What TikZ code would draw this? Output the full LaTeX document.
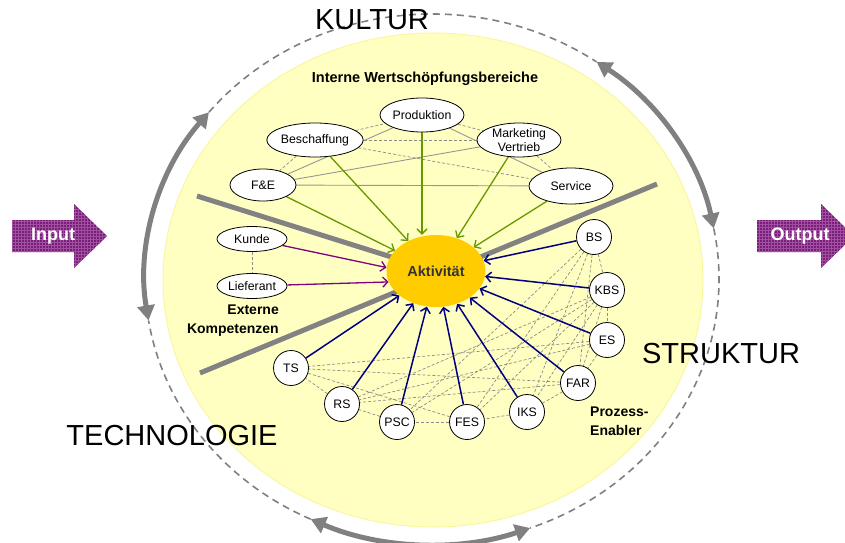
\documentclass[tikz,border=0pt]{standalone}
\usepackage{fontspec}
\setmainfont{Liberation Sans}
\usetikzlibrary{shapes.geometric,arrows.meta,patterns}

\pgfdeclarelayer{back}
\pgfdeclarelayer{links}
\pgfsetlayers{back,links,main}

\definecolor{ringgray}{RGB}{128,128,128}
\definecolor{paleyellow}{RGB}{255,255,194}
\definecolor{rimyellow}{RGB}{250,246,160}
\definecolor{aktgold}{RGB}{255,204,0}
\definecolor{aktext}{RGB}{51,51,51}
\definecolor{valgreen}{RGB}{102,153,0}
\definecolor{enablerblue}{RGB}{0,0,128}
\definecolor{extpurple}{RGB}{128,0,128}
\definecolor{arrowpurple}{RGB}{122,30,122}
\definecolor{arrowgrid}{RGB}{160,80,160}
\definecolor{meshgray}{RGB}{140,140,140}
\definecolor{linkgray}{RGB}{150,150,150}
\definecolor{dividergray}{RGB}{130,130,130}

\begin{document}
\begin{tikzpicture}[x=1pt,y=1pt,
  bereich/.style={ellipse, draw=black, line width=0.8pt, fill=white, inner sep=0pt,
    minimum width=84pt, minimum height=34pt, align=center,
    font=\fontsize{12.3}{13.5}\selectfont},
  extern/.style={bereich, minimum width=70pt, minimum height=25pt},
  enabler/.style={circle, draw=black, line width=0.8pt, fill=white, inner sep=0pt,
    minimum size=35pt, font=\fontsize{12.3}{14}\selectfont},
  bigword/.style={font=\fontsize{29}{32}\selectfont, text=black, inner sep=0pt},
  grouplabel/.style={font=\bfseries\fontsize{14}{19}\selectfont, inner sep=0pt},
  ringdash/.style={draw=ringgray, line width=1.6pt, dash pattern=on 7pt off 5pt},
  ringarrow/.style={draw=ringgray, line width=5pt,
    {Triangle[length=15pt,width=17pt]}-{Triangle[length=15pt,width=17pt]}},
  barb/.style={-{Straight Barb[length=5pt,width=10pt]}},
  greenarrow/.style={barb, draw=valgreen, line width=1.3pt},
  purplearrow/.style={barb, draw=extpurple, line width=1.3pt},
  bluearrow/.style={barb, draw=enablerblue, line width=1.5pt},
  meshdash/.style={draw=meshgray, line width=0.7pt, dash pattern=on 3pt off 2pt},
  meshsolid/.style={draw=linkgray, line width=0.9pt},
  divider/.style={draw=dividergray, line width=5pt},
  bigarrow/.style={fill=arrowpurple, postaction={pattern=grid, pattern color=arrowgrid}},
  arrowtext/.style={font=\bfseries\fontsize{18}{20}\selectfont, text=white, inner sep=0pt}
]
\clip (0,0) rectangle (845,542);

% ---------- yellow company disk and surrounding ring ----------
\begin{pgfonlayer}{back}
  \filldraw[fill=paleyellow, draw=rimyellow, line width=1pt]
    (433,262) ellipse[x radius=270, y radius=247];
  \coordinate (rc) at (432,263);
  \draw[ringdash] (rc) ++(141:287 and 265) arc[start angle=141, end angle=55, x radius=287, y radius=265];
  \draw[ringdash] (rc) ++(11:287 and 265) arc[start angle=11, end angle=-70, x radius=287, y radius=265];
  \draw[ringdash] (rc) ++(-115:287 and 265) arc[start angle=-115, end angle=-171, x radius=287, y radius=265];
  \draw[ringarrow] (rc) ++(55:287 and 265) arc[start angle=55, end angle=11, x radius=287, y radius=265];
  \draw[ringarrow] (rc) ++(-70:287 and 265) arc[start angle=-70, end angle=-115, x radius=287, y radius=265];
  \draw[ringarrow] (rc) ++(189:287 and 265) arc[start angle=189, end angle=141, x radius=287, y radius=265];
\end{pgfonlayer}

% ---------- input / output arrows ----------
\path[bigarrow] (12,322) -- (74,322) -- (74,338) -- (107,306) -- (74,274) -- (74,290) -- (12,290) -- cycle;
\node[arrowtext] (input) at (53,306) {Input};
\path[bigarrow] (757,322) -- (821,322) -- (821,338) -- (854,306) -- (821,274) -- (821,290) -- (757,290) -- cycle;
\node[arrowtext] (output) at (800,306) {Output};

% ---------- ring labels ----------
\node[bigword] (kultur) at (372,522) {KULTUR};
\node[bigword] (struktur) at (721,188) {STRUKTUR};
\node[bigword] (technologie) at (172,106) {TECHNOLOGIE};

% ---------- group labels ----------
\node[grouplabel, font=\bfseries\fontsize{14.5}{17}\selectfont] (intern) at (425,463) {Interne Wertschöpfungsbereiche};
\node[grouplabel, align=right, anchor=north east] (externlbl) at (279,237) {Externe\\Kompetenzen};
\node[grouplabel, align=left, anchor=north west] (enablerlbl) at (590,135) {Prozess-\\Enabler};

% ---------- central activity ----------
\node[ellipse, fill=aktgold, minimum width=99pt, minimum height=72pt, inner sep=0pt,
      text=aktext, font=\bfseries\fontsize{14.5}{16}\selectfont] (akt) at (436,271) {Aktivität};

% ---------- internal value-creation areas ----------
\node[bereich] (prod) at (422,427) {Produktion};
\node[bereich] (besch) at (315,402) {Beschaffung};
\node[bereich] (mark) at (519,402) {Marketing\\Vertrieb};
\node[bereich, minimum width=66pt, minimum height=32pt] (fe) at (263,357) {F\&E};
\node[bereich, minimum height=36pt] (serv) at (571,356) {Service};

% ---------- external competences ----------
\node[extern] (kunde) at (252,303) {Kunde};
\node[extern] (lief) at (252,256) {Lieferant};

% ---------- process enablers ----------
\node[enabler] (bs) at (594,305) {BS};
\node[enabler] (kbs) at (607,252) {KBS};
\node[enabler] (es) at (607,202) {ES};
\node[enabler] (far) at (578,159) {FAR};
\node[enabler] (iks) at (527,130) {IKS};
\node[enabler] (fes) at (467,120) {FES};
\node[enabler] (psc) at (397,120) {PSC};
\node[enabler] (rs) at (342,138) {RS};
\node[enabler] (ts) at (291,174) {TS};

% ---------- connectors ----------
\begin{pgfonlayer}{links}
  % sector dividers
  \draw[divider] (200,169) coordinate (divA) -- (657,358) coordinate (divB);
  \draw[divider] (197,346) coordinate (divC) -- (akt.center);

  % links among the internal areas
  \draw[meshsolid] (fe) -- (prod);
  \draw[meshsolid] (fe) -- (mark);
  \draw[meshsolid] (fe) -- (serv);
  \draw[meshsolid] (prod) -- (serv);
  \draw[meshdash] (besch) -- (prod);
  \draw[meshdash] (prod) -- (mark);
  \draw[meshdash] (besch) -- (fe);
  \draw[meshdash] (besch) -- (mark);
  \draw[meshdash] (besch) -- (serv);
  \draw[meshdash] (mark) -- (serv);
  \draw[meshdash] (kunde) -- (lief);

  % links among the enablers
  \foreach \a/\b in {bs/kbs, kbs/es, es/far, far/iks, iks/fes, fes/psc, psc/rs, rs/ts,
                     bs/far, bs/iks, bs/fes, bs/psc,
                     kbs/far, kbs/iks, kbs/fes, kbs/psc, kbs/rs,
                     es/ts, es/rs, far/ts, far/rs, ts/fes}
    \draw[meshdash] (\a) -- (\b);

  % influences on the activity
  \foreach \s in {fe, besch, mark, serv}
    \draw[greenarrow] (\s) -- (akt);
  \draw[greenarrow] (prod.south) -- (prod.south |- akt.north);
  \draw[purplearrow] (kunde) -- (akt.176);
  \draw[purplearrow] (lief) -- (akt.193);
  \foreach \s in {bs, kbs, es, far, iks, fes, psc, rs, ts}
    \draw[bluearrow] (\s) -- (akt);
\end{pgfonlayer}
\end{tikzpicture}
\end{document}
